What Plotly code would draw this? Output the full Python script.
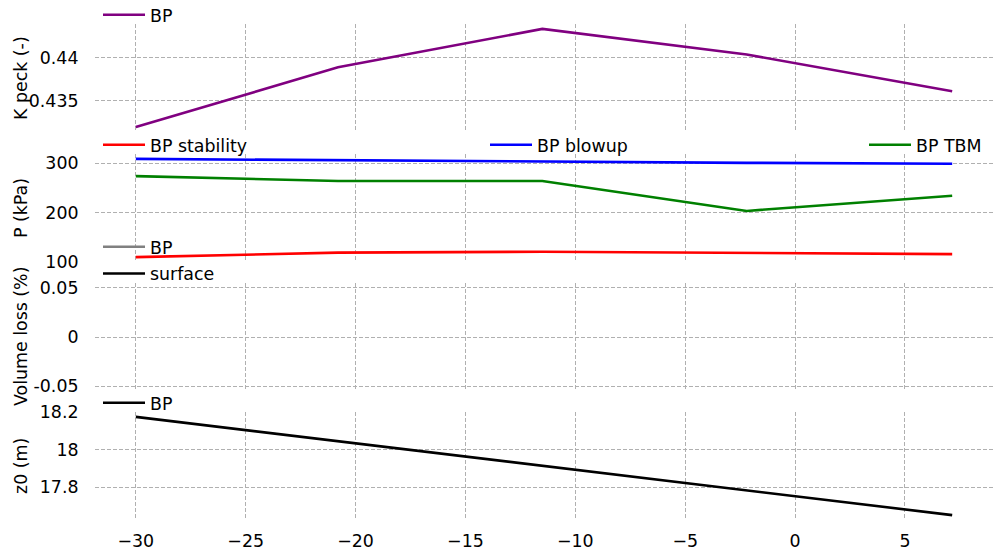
import plotly.graph_objects as go

# ---- data ----
x_pos = [-30.0, -20.8, -11.5, -2.2, 7.15]
k_peck = [0.4319, 0.4389, 0.4434, 0.4404, 0.4361]
p_stability = [109, 118, 120, 117, 115]
p_blowup = [309, 306, 303, 301, 299]
p_tbm = [274, 264, 264, 203, 234]
vl_bp = [None, None, None, None, None]
vl_surface = [None, None, None, None, None]
z0 = [18.175, 18.046, 17.914, 17.783, 17.651]

x_ticks = [-30, -25, -20, -15, -10, -5, 0, 5]
k_ticks = [0.435, 0.44]
k_ticktext = ["0.435", "0.44"]
p_ticks = [100, 200, 300]
p_ticktext = ["100", "200", "300"]
vl_ticks = [-0.05, 0, 0.05]
vl_ticktext = ["-0.05", "0", "0.05"]
z_ticks = [17.8, 18.0, 18.2]
z_ticktext = ["17.8", "18", "18.2"]

FONT = "DejaVu Sans"
FS = 17.4
GRID = "#b0b0b0"
LW = 2.6


def padded(lo, hi, frac=0.05):
    m = (hi - lo) * frac
    return [lo - m, hi + m]


x_range = padded(min(x_pos), max(x_pos))
k_range = padded(min(k_peck), max(k_peck))
p_all = p_stability + p_blowup + p_tbm
p_range = padded(min(p_all), max(p_all))
vl_range = [-0.055, 0.055]
z_range = padded(min(z0), max(z0))

fig = go.Figure()

fig.add_trace(go.Scatter(x=x_pos, y=k_peck, mode="lines", name="BP",
                         line=dict(color="purple", width=LW),
                         xaxis="x", yaxis="y", legend="legend"))

fig.add_trace(go.Scatter(x=x_pos, y=p_stability, mode="lines", name="BP stability",
                         line=dict(color="red", width=LW),
                         xaxis="x2", yaxis="y2", legend="legend2"))
fig.add_trace(go.Scatter(x=x_pos, y=p_blowup, mode="lines", name="BP blowup",
                         line=dict(color="blue", width=LW),
                         xaxis="x2", yaxis="y2", legend="legend5"))
fig.add_trace(go.Scatter(x=x_pos, y=p_tbm, mode="lines", name="BP TBM",
                         line=dict(color="green", width=LW),
                         xaxis="x2", yaxis="y2", legend="legend6"))

fig.add_trace(go.Scatter(x=x_pos, y=vl_bp, mode="lines", name="BP",
                         line=dict(color="gray", width=LW), legendgroup="g1",
                         xaxis="x3", yaxis="y3", legend="legend3"))
fig.add_trace(go.Scatter(x=x_pos, y=vl_surface, mode="lines", name="surface",
                         line=dict(color="black", width=LW), legendgroup="g2",
                         xaxis="x3", yaxis="y3", legend="legend3"))

fig.add_trace(go.Scatter(x=x_pos, y=z0, mode="lines", name="BP",
                         line=dict(color="black", width=LW),
                         xaxis="x4", yaxis="y4", legend="legend4"))

# panel pixel layout
W, H = 1000, 553
ML, MR, MT, MB = 95, 7, 24, 33
PW = W - ML - MR
PH = H - MT - MB
panels_px = [(24, 132), (154, 262), (283, 391), (412, 520)]


def dom(top, bot):
    return [(H - MB - bot) / PH, (H - MB - top) / PH]


def py(px):
    return (H - MB - px) / PH


def pxx(px):
    return (px - ML) / PW


common_x = dict(range=x_range, showline=False, zeroline=False, showgrid=True,
                gridcolor=GRID, griddash="4px,2px", gridwidth=1,
                tickvals=x_ticks, ticks="outside", ticklen=5,
                tickcolor="rgba(0,0,0,0)", tickfont=dict(family=FONT, size=FS, color="black"))
common_y = dict(showline=False, zeroline=False, showgrid=True,
                gridcolor=GRID, griddash="4px,2px", gridwidth=1,
                ticks="outside", ticklen=12, tickcolor="rgba(0,0,0,0)",
                tickfont=dict(family=FONT, size=FS, color="black"))

layout = dict(
    width=W, height=H,
    margin=dict(l=ML, r=MR, t=MT, b=MB, pad=0, autoexpand=False),
    paper_bgcolor="white", plot_bgcolor="white",
    font=dict(family=FONT, size=FS, color="black"),
    showlegend=True,
)
yspecs = [
    (k_range, k_ticks, k_ticktext),
    (p_range, p_ticks, p_ticktext),
    (vl_range, vl_ticks, vl_ticktext),
    (z_range, z_ticks, z_ticktext),
]
for i in range(4):
    sfx = "" if i == 0 else str(i + 1)
    xa = dict(common_x, anchor="y" + sfx, domain=[0, 1], showticklabels=(i == 3))
    if i < 3:
        xa["matches"] = "x4"
    layout["xaxis" + sfx] = xa
    rng, tv, tt = yspecs[i]
    layout["yaxis" + sfx] = dict(common_y, anchor="x" + sfx,
                                 domain=dom(*panels_px[i]),
                                 range=rng, tickvals=tv, ticktext=tt)

fig.update_layout(**layout)

leg_common = dict(xanchor="left", yanchor="middle", bgcolor="rgba(0,0,0,0)",
                  borderwidth=0, itemwidth=42,
                  font=dict(family=FONT, size=FS, color="black"))
fig.update_layout(
    legend=dict(leg_common, x=pxx(98), y=py(15)),
    legend2=dict(leg_common, x=pxx(98), y=py(145)),
    legend5=dict(leg_common, x=pxx(485), y=py(145)),
    legend6=dict(leg_common, x=pxx(864), y=py(145)),
    legend3=dict(leg_common, x=pxx(98), y=py(260.5), tracegroupgap=1),
    legend4=dict(leg_common, x=pxx(98), y=py(403)),
)

titles = ["K peck (-)", "P (kPa)", "Volume loss (%)", "z0 (m)"]
for i, t in enumerate(titles):
    top, bot = panels_px[i]
    fig.add_annotation(text=t, xref="paper", yref="paper",
                       x=pxx(21), y=py((top + bot) / 2),
                       xanchor="center", yanchor="middle", textangle=-90,
                       showarrow=False, font=dict(family=FONT, size=FS, color="black"))

fig.write_html("out.html", config={"displayModeBar": False},
               post_script="document.body.style.margin='0px';")
